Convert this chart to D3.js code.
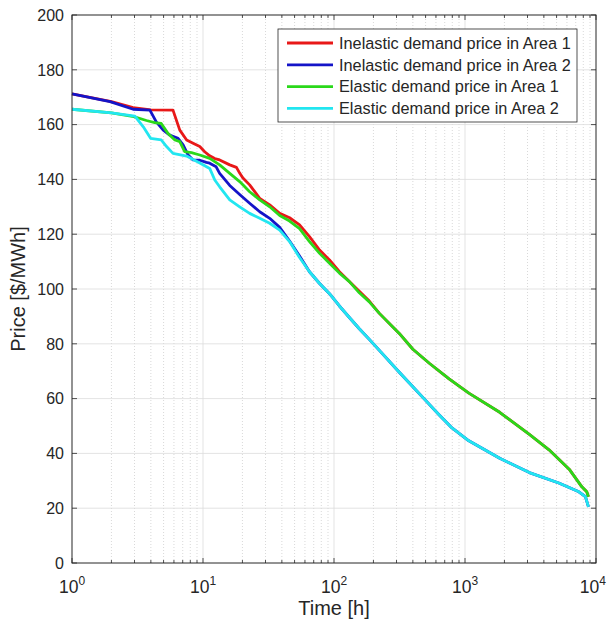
<!DOCTYPE html>
<html><head><meta charset="utf-8">
<script src="https://cdn.jsdelivr.net/npm/d3@7"></script>
<style>body{margin:0;background:#fff}svg{display:block}text{font-family:"Liberation Sans",Arial,Helvetica,sans-serif;fill:#262626}</style>
</head><body>
<script>
// ---- data ----
const seriesNames = ["Inelastic demand price in Area 1","Inelastic demand price in Area 2","Elastic demand price in Area 1","Elastic demand price in Area 2"];
const seriesColors = ["#e81818","#1414c8","#2ad81a","#22e6f0"];
const tRed = [1,2,2.93,4,5.9,6.65,7.5,8.4,9.45,10.3,11.25,12.3,13.4,16,18,19.05,20.1,22.7,27.1,32.3,38.5,45.8,54.6,65,77.6,92.4,110,131,156,186,222,315,400,534,756,1070,1840,3100,4380,6300,7800,8500,8760];
const vRed = [171.2,168.4,166.2,165.4,165.3,158,154.4,153.2,152,150.1,148.6,147.6,147.1,145.3,144.4,142.3,140.6,138,133.1,130.7,127.6,126,123.4,119.1,114.2,110.6,106.3,102.7,99.2,95.6,91.1,83.8,78,72.9,67.2,62,55,46.9,41.3,34,27.8,26,24.2];
const tBlue = [1,1.95,2.93,3.93,4.4,4.97,5.57,6.45,7.05,7.7,8.4,9.45,10.6,11.25,12.6,13.4,16,19.05,22.7,27.1,32.3,38.5,45.8,54.6,65,77.6,92.4,110,131,156,186,222,315,490,636,782,1070,1840,3100,5200,7400,8300,8760];
const vBlue = [171.2,168.4,165.6,165.3,161,158,156.2,155,152.6,148.9,147.1,147,146.2,145.9,144.6,142.2,137.8,134.5,131.3,128.2,125.8,122.5,117.5,112,106.3,102,98.3,93.8,89.6,85.5,81.6,77.6,69.6,59.8,54,49.6,44.6,38.2,33,29.2,26,24.2,20.5];
const tGreen = [1,2,2.96,3.7,4.28,4.8,5.4,6.1,6.65,7.25,8.16,9.45,11.25,13.4,16,19.05,22.7,27.1,32.3,38.5,45.8,54.6,65,77.6,92.4,110,131,156,186,222,315,400,534,756,1070,1840,3100,4380,6300,7800,8500,8760];
const vGreen = [165.6,164.3,162.9,161.5,160.7,160.4,156.8,154.4,153.8,150.1,149.8,148.9,147.7,145.3,142.2,139.2,135.5,132.5,130,126.8,124.8,122,117.3,113,109.4,105.8,102.7,98.6,95.3,91.1,83.8,78,72.9,67.2,62,55,46.9,41.3,34,27.8,26,24.2];
const tCyan = [1,2,3.02,3.5,3.98,4.8,5.27,5.9,7.5,9.45,11.25,12.3,13.4,16,19.05,22.7,27.1,32.3,38.5,45.8,54.6,65,77.6,92.4,110,131,156,186,222,315,490,636,782,1070,1840,3100,5200,7400,8300,8760];
const vCyan = [165.6,164.3,163.1,159.2,155,154.4,152,149.5,148.5,146,144,139.8,137.3,132.5,130,127.6,125.8,124,121.5,117.3,111.5,106.3,102,98.3,93.8,89.6,85.5,81.6,77.6,69.6,59.8,54,49.6,44.6,38.2,33,29.2,26,24.2,20.5];
const yTicks = [0,20,40,60,80,100,120,140,160,180,200];
const xMajor = [1,10,100,1000,10000];
const xExp = ["0","1","2","3","4"];
const xLabel = "Time [h]";
const yLabel = "Price [$/MWh]";

const series = [
  {t:tRed, v:vRed}, {t:tBlue, v:vBlue}, {t:tGreen, v:vGreen}, {t:tCyan, v:vCyan}
];

// ---- layout ----
const W = 607, H = 623;
const m = {l:72, r:11, t:15, b:60};
const svg = d3.select("body").append("svg").attr("width",W).attr("height",H);
const x = d3.scaleLog().domain([1,10000]).range([m.l, W-m.r]);
const y = d3.scaleLinear().domain([0,200]).range([H-m.b, m.t]);
const x0 = m.l, x1 = W-m.r, y0 = H-m.b, y1 = m.t;

// minor ticks
const minor = [];
for (let d=1; d<10000; d*=10) for (let k=2;k<10;k++) minor.push(d*k);

const g = svg.append("g");
// grid
g.selectAll(".mg").data(minor).join("line")
  .attr("x1",d=>x(d)).attr("x2",d=>x(d)).attr("y1",y0).attr("y2",y1)
  .attr("stroke","#cfcfcf").attr("stroke-width",0.8).attr("stroke-dasharray","1,2");
g.selectAll(".Mg").data(xMajor.slice(1,-1)).join("line")
  .attr("x1",d=>x(d)).attr("x2",d=>x(d)).attr("y1",y0).attr("y2",y1)
  .attr("stroke","#dcdcdc").attr("stroke-width",0.8);
g.selectAll(".hg").data(yTicks.slice(1,-1)).join("line")
  .attr("x1",x0).attr("x2",x1).attr("y1",d=>y(d)).attr("y2",d=>y(d))
  .attr("stroke","#dcdcdc").attr("stroke-width",0.8);

// lines
const line = d3.line().x(d=>x(d[0])).y(d=>y(d[1]));
series.forEach((s,i)=>{
  const pts = s.t.map((t,j)=>[t,s.v[j]]);
  g.append("path").attr("d",line(pts)).attr("fill","none")
    .attr("stroke",seriesColors[i]).attr("stroke-width",2.8).attr("stroke-linejoin","round");
});

// ticks (inward, all sides)
const tk = svg.append("g").attr("stroke","#262626").attr("stroke-width",0.8);
minor.forEach(d=>{
  tk.append("line").attr("x1",x(d)).attr("x2",x(d)).attr("y1",y0).attr("y2",y0-3);
  tk.append("line").attr("x1",x(d)).attr("x2",x(d)).attr("y1",y1).attr("y2",y1+3);
});
xMajor.forEach(d=>{
  tk.append("line").attr("x1",x(d)).attr("x2",x(d)).attr("y1",y0).attr("y2",y0-5);
  tk.append("line").attr("x1",x(d)).attr("x2",x(d)).attr("y1",y1).attr("y2",y1+5);
});
yTicks.forEach(d=>{
  tk.append("line").attr("x1",x0).attr("x2",x0+5).attr("y1",y(d)).attr("y2",y(d));
  tk.append("line").attr("x1",x1).attr("x2",x1-5).attr("y1",y(d)).attr("y2",y(d));
});
// frame
svg.append("rect").attr("x",x0).attr("y",y1).attr("width",x1-x0).attr("height",y0-y1)
  .attr("fill","none").attr("stroke","#262626").attr("stroke-width",1);

// y tick labels
svg.selectAll(".yl").data(yTicks).join("text")
  .attr("x",x0-8).attr("y",d=>y(d)).attr("dy","0.36em").attr("text-anchor","end")
  .style("font-size","16px").text(d=>d);
// x tick labels with superscript
xMajor.forEach((d,i)=>{
  const last = i === xMajor.length-1;
  const t = svg.append("text").attr("x", last ? W-1 : x(d)).attr("y",593)
    .attr("text-anchor", last ? "end" : "middle").style("font-size","17.5px");
  t.append("tspan").text("10");
  t.append("tspan").attr("dy","-8").style("font-size","12px").text(xExp[i]);
});
// axis labels
svg.append("text").attr("x",(x0+x1)/2).attr("y",615).attr("text-anchor","middle").style("font-size","20px").text(xLabel);
svg.append("text").attr("transform",`translate(25,${(y0+y1)/2}) rotate(-90)`).attr("text-anchor","middle").style("font-size","20px").text(yLabel);

// legend
const lg = svg.append("g");
lg.append("rect").attr("x",278).attr("y",29).attr("width",299).attr("height",93)
  .attr("fill","#fff").attr("stroke","#262626").attr("stroke-width",0.8);
seriesNames.forEach((n,i)=>{
  const yy = 43 + i*21.8;
  lg.append("line").attr("x1",287).attr("x2",333).attr("y1",yy).attr("y2",yy)
    .attr("stroke",seriesColors[i]).attr("stroke-width",2.8);
  lg.append("text").attr("x",339).attr("y",yy).attr("dy","0.36em").style("font-size","16.3px").text(n);
});
</script>
</body></html>
